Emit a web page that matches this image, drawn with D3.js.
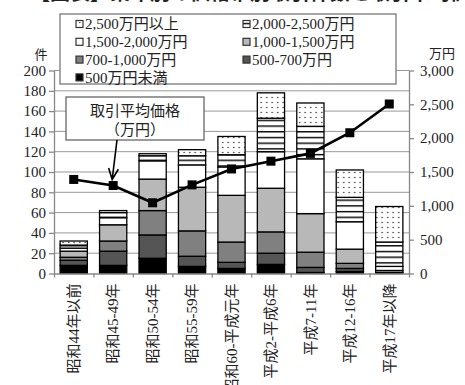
<!DOCTYPE html>
<html lang="ja">
<head>
<meta charset="UTF-8">
<title>築年別 取引件数と取引平均価格</title>
<style>
  body { margin: 0; background: #fff; }
  #chart text { font-family: "Liberation Serif", "Noto Sans CJK JP", serif; fill: #222; }
</style>
</head>
<body>
<div id="chart"></div>
<script src="https://cdn.jsdelivr.net/npm/d3@7"></script>
<script>
// categories (築年)
var categories = ["昭和44年以前", "昭和45-49年", "昭和50-54年", "昭和55-59年", "昭和60-平成元年",
                  "平成2-平成6年", "平成7-11年", "平成12-16年", "平成17年以降"];

// 件数 by price band, bottom of the stack first
var under500   = [8, 8, 15, 7, 5, 9, 1, 2, 0];
var p500_700   = [5, 14, 23, 10, 6, 11, 5, 3, 0];
var p700_1000  = [3, 10, 24, 25, 20, 21, 15, 5, 1];
var p1000_1500 = [6, 16, 31, 43, 46, 43, 38, 14, 2];
var p1500_2000 = [3, 7, 18, 22, 28, 36, 54, 27, 4];
var p2000_2500 = [3, 5, 5, 9, 12, 33, 32, 24, 24];
var over2500   = [4, 2, 2, 6, 18, 25, 23, 27, 35];

// 取引平均価格 (万円)
var avgPrice = [1390, 1300, 1045, 1310, 1545, 1660, 1775, 2080, 2505];

var countTicks = [0, 20, 40, 60, 80, 100, 120, 140, 160, 180, 200];
var priceTicks = [0, 500, 1000, 1500, 2000, 2500, 3000];

var seriesNames = ["500万円未満", "500-700万円", "700-1,000万円", "1,000-1,500万円",
                   "1,500-2,000万円", "2,000-2,500万円", "2,500万円以上"];
var seriesValues = [under500, p500_700, p700_1000, p1000_1500, p1500_2000, p2000_2500, over2500];
var seriesFill = ["#000", "#555", "#808080", "#b8b8b8", "#fff", "url(#stripes)", "url(#dots)"];

var W = 465, H = 385;
var plotL = 54, plotR = 409, plotT = 70.5, plotB = 273.5;

var svg = d3.select("#chart").append("svg")
    .attr("width", W)
    .attr("height", H);

// patterns
var defs = svg.append("defs");
var st = defs.append("pattern").attr("id", "stripes")
    .attr("patternUnits", "userSpaceOnUse").attr("width", 6).attr("height", 5.7);
st.append("rect").attr("width", 6).attr("height", 5.7).attr("fill", "#fff");
st.append("rect").attr("y", 0).attr("width", 6).attr("height", 1.4).attr("fill", "#000");
var dt = defs.append("pattern").attr("id", "dots")
    .attr("patternUnits", "userSpaceOnUse").attr("width", 5.5).attr("height", 5);
dt.append("rect").attr("width", 5.5).attr("height", 5).attr("fill", "#fff");
dt.append("circle").attr("cx", 2.7).attr("cy", 2.5).attr("r", 0.8).attr("fill", "#333");

// title, mostly cut off above the picture as in the source
svg.append("text")
    .attr("x", 30).attr("y", 0)
    .style("font-size", "20px").style("font-weight", "bold")
    .style("font-family", "'Noto Sans CJK JP'")
    .text("【図表】築年別の価格帯別取引件数と取引平均価格");

// scales
var x = d3.scaleBand().domain(categories).range([plotL, plotR])
    .paddingInner(0.31).paddingOuter(0.155);
var xb = d3.scaleLinear().domain([0, categories.length]).range([plotL, plotR]);
var yL = d3.scaleLinear().domain([0, 200]).range([plotB, plotT]);
var yR = d3.scaleLinear().domain([0, 3000]).range([plotB, plotT]);

// gridlines
svg.append("g").selectAll("line")
    .data(countTicks.slice(1))
    .enter().append("line")
    .attr("x1", plotL).attr("x2", plotR)
    .attr("y1", d => yL(d)).attr("y2", d => yL(d))
    .attr("stroke", "#999").attr("stroke-width", 1);

// stacked bars
var rows = categories.map(function (c, i) {
    var r = { cat: c };
    seriesNames.forEach(function (n, k) { r[n] = seriesValues[k][i]; });
    return r;
});
var stacked = d3.stack().keys(seriesNames)(rows);

svg.append("g").selectAll("g")
    .data(stacked)
    .enter().append("g")
    .attr("fill", (d, k) => seriesFill[k])
    .selectAll("rect")
    .data(d => d)
    .enter().append("rect")
    .attr("x", d => x(d.data.cat))
    .attr("width", x.bandwidth())
    .attr("y", d => yL(d[1]))
    .attr("height", d => yL(d[0]) - yL(d[1]))
    .attr("stroke", "#000")
    .attr("stroke-width", 1.3);

// axes
var axisColor = "#888";
var gl = svg.append("g").attr("transform", "translate(" + plotL + ",0)")
    .call(d3.axisLeft(yL).tickValues(countTicks).tickSize(5).tickSizeOuter(0).tickPadding(3));
var gr = svg.append("g").attr("transform", "translate(" + plotR + ",0)")
    .call(d3.axisRight(yR).tickValues(priceTicks).tickSize(5).tickSizeOuter(0).tickPadding(6)
        .tickFormat(d3.format(",")));
var gb = svg.append("g").attr("transform", "translate(0," + plotB + ")")
    .call(d3.axisBottom(xb).tickValues(d3.range(categories.length + 1)).tickSize(4)
        .tickSizeOuter(0).tickFormat(""));
[gl, gr, gb].forEach(function (g) {
    g.selectAll("path, line").attr("stroke", axisColor).attr("stroke-width", 1.3);
    g.selectAll("text").style("font-size", "15px");
});

// category labels, rotated
var gx = svg.append("g").attr("transform", "translate(0," + plotB + ")")
    .call(d3.axisBottom(x).tickSize(0).tickPadding(0));
gx.select(".domain").remove();
gx.selectAll("text")
    .style("font-size", "15px")
    .attr("text-anchor", "end")
    .attr("transform", "rotate(-90)")
    .attr("x", -10).attr("y", 0).attr("dy", "0.35em");

// axis unit labels
svg.append("text").attr("x", 41).attr("y", 59).attr("text-anchor", "middle")
    .style("font-size", "13px").text("件");
svg.append("text").attr("x", 442).attr("y", 58).attr("text-anchor", "middle")
    .style("font-size", "13px").text("万円");

// average price line
var line = d3.line()
    .x((d, i) => x(categories[i]) + x.bandwidth() / 2)
    .y(d => yR(d));
svg.append("path").datum(avgPrice)
    .attr("d", line)
    .attr("fill", "none")
    .attr("stroke", "#000")
    .attr("stroke-width", 2.6);
svg.append("g").selectAll("rect")
    .data(avgPrice)
    .enter().append("rect")
    .attr("x", (d, i) => x(categories[i]) + x.bandwidth() / 2 - 4.5)
    .attr("y", d => yR(d) - 4.5)
    .attr("width", 9).attr("height", 9)
    .attr("fill", "#000");

// legend
var legend = svg.append("g");
legend.append("rect")
    .attr("x", 60).attr("y", 14).attr("width", 336).attr("height", 70)
    .attr("fill", "#fff").attr("stroke", "#777").attr("stroke-width", 1.3);
var legendOrder = [6, 5, 4, 3, 2, 1, 0];
legendOrder.forEach(function (k, j) {
    var col = j % 2, row = Math.floor(j / 2);
    var lx = col === 0 ? 76 : 243;
    var ly = 24 + row * 17.8;
    legend.append("rect")
        .attr("x", lx).attr("y", ly - 3.5).attr("width", 7).attr("height", 7)
        .attr("fill", seriesFill[k]).attr("stroke", "#333").attr("stroke-width", 1.2);
    legend.append("text")
        .attr("x", lx + 9).attr("y", ly).attr("dy", "0.35em")
        .style("font-size", "15px")
        .text(seriesNames[k]);
});

// annotation box with arrow
var note = svg.append("g");
note.append("rect")
    .attr("x", 66).attr("y", 97).attr("width", 138).attr("height", 43)
    .attr("fill", "#fff").attr("stroke", "#666").attr("stroke-width", 1.3);
note.append("text").attr("x", 135).attr("y", 111).attr("dy", "0.35em")
    .attr("text-anchor", "middle").style("font-size", "15px").text("取引平均価格");
note.append("text").attr("x", 135).attr("y", 130).attr("dy", "0.35em")
    .attr("text-anchor", "middle").style("font-size", "15px").text("（万円）");

var tipX = x(categories[1]) + x.bandwidth() / 2 - 1;
var tipY = yR(avgPrice[1]) - 6;
var fromX = 117, fromY = 140;
var ang = Math.atan2(tipY - fromY, tipX - fromX);
var hl = 12, ha = 0.42;
note.append("path")
    .attr("d", "M" + fromX + "," + fromY + "L" + tipX + "," + tipY +
        "M" + (tipX - hl * Math.cos(ang - ha)) + "," + (tipY - hl * Math.sin(ang - ha)) +
        "L" + tipX + "," + tipY +
        "L" + (tipX - hl * Math.cos(ang + ha)) + "," + (tipY - hl * Math.sin(ang + ha)))
    .attr("fill", "none").attr("stroke", "#000").attr("stroke-width", 1.6);
</script>
</body>
</html>
